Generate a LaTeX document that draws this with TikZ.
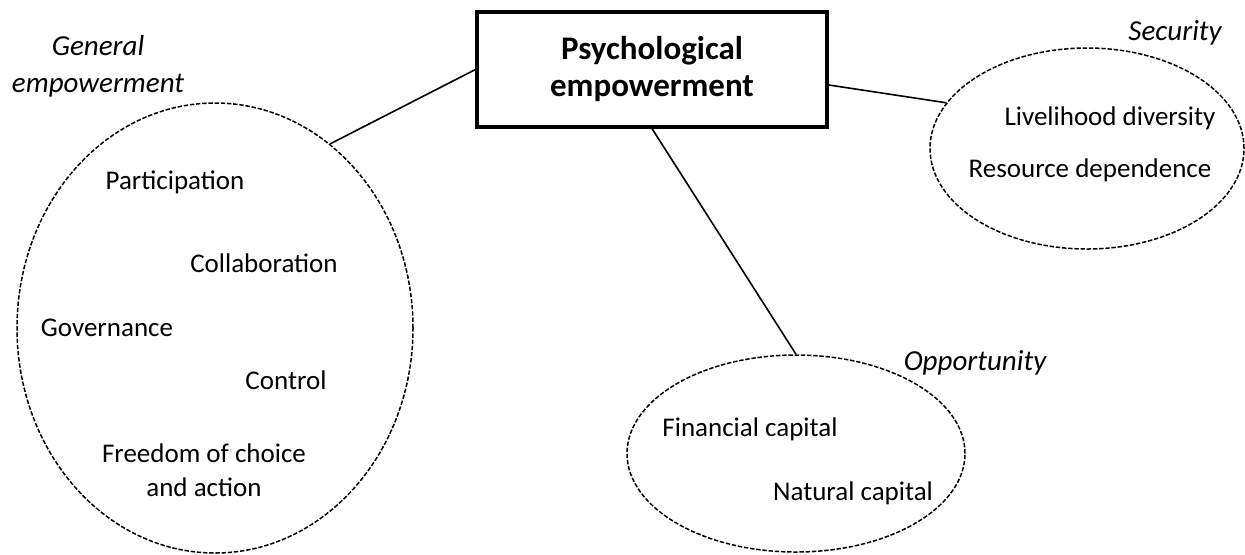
\documentclass[tikz,border=0pt]{standalone}
\usepackage{fontspec}
\setmainfont{Carlito}
\usepackage{tikz}
\usetikzlibrary{shapes.geometric,positioning}
\tikzset{%
	core/.style    = {draw, rectangle, line width=1.6pt, minimum width=175pt, minimum height=57.5pt, align=center, font=\fontsize{16.5}{18.5}\selectfont\bfseries},
	cluster/.style = {draw, ellipse, dash pattern=on 2.2pt off 0.9pt, line width=0.75pt, inner sep=0pt}, % dimension
	item/.style    = {font=\fontsize{13.5}{17}\selectfont, align=center}, % indicator
	dimname/.style = {font=\fontsize{14.5}{18.5}\selectfont\itshape, align=center}, % dimension name
	link/.style    = {line width=0.8pt},
}
\begin{document}
\begin{tikzpicture}[x=0.5pt, y=-0.5pt]
	\useasboundingbox (0,0) rectangle (1245,554);
	\node[core] (pe) at (652,69.5) {Psychological\\empowerment};
	\node[cluster, minimum width=198pt, minimum height=225pt] (gen) at (215,328) {};
	\node[cluster, minimum width=157pt, minimum height=100.5pt] (sec) at (1087,148.5) {};
	\node[cluster, minimum width=169pt, minimum height=98.5pt] (opp) at (796,453.5) {};
	% dimension names
	\node[dimname] (genname) at (98,66) {General\\empowerment};
	\node[dimname] (secname) at (1175,33) {Security};
	\node[dimname] (oppname) at (975,363) {Opportunity};
	% general empowerment
	\node[item] (part) at (175,182) {Participation};
	\node[item] (coll) at (264,263) {Collaboration};
	\node[item] (gov) at (107,328) {Governance};
	\node[item] (ctrl) at (286,380) {Control};
	\node[item] (free) at (204,470) {Freedom of choice\\and action};
	% security
	\node[item] (live) at (1110,118) {Livelihood diversity};
	\node[item] (res) at (1090,170) {Resource dependence};
	% opportunity
	\node[item] (fin) at (750,429) {Financial capital};
	\node[item] (nat) at (853,493) {Natural capital};
	\draw[link] (pe.west) -- (gen.58);
	\draw[link] (pe.-5.7) -- (sec.162.5);
	\draw[link] (pe.south) -- (opp.north);
\end{tikzpicture}
\end{document}
